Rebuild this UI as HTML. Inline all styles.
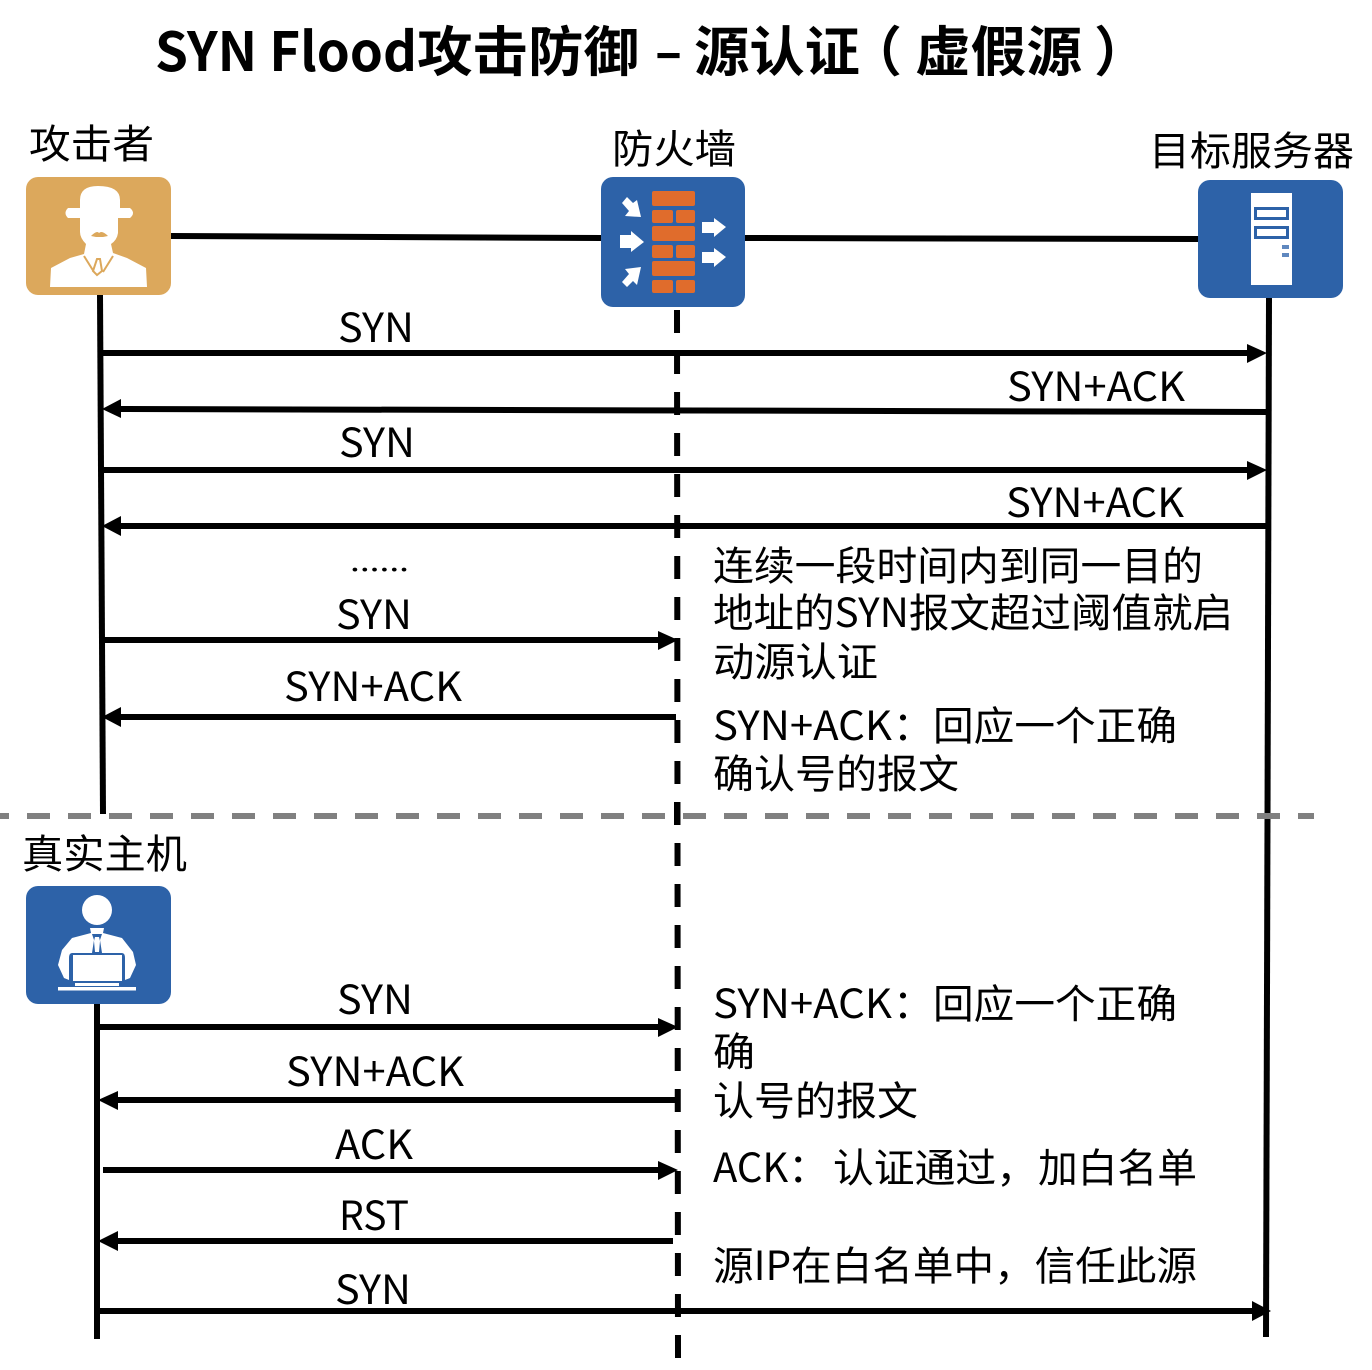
<!DOCTYPE html>
<html><head><meta charset="utf-8"><style>
html,body{margin:0;padding:0;background:#fff;width:1372px;height:1370px;overflow:hidden}
svg{display:block}
text{font-family:"Liberation Sans","Noto Sans CJK SC",sans-serif;fill:#000}
.n{font-family:"Noto Sans CJK SC","Liberation Sans",sans-serif;font-size:40px}
.t{font-family:"Noto Sans CJK SC","Liberation Sans",sans-serif;font-size:54px;font-weight:700}
</style></head><body>
<svg width="1372" height="1370" viewBox="0 0 1372 1370" xmlns="http://www.w3.org/2000/svg">
<text class="t" x="155" y="71" textLength="262" lengthAdjust="spacingAndGlyphs">SYN Flood</text>
<text class="t" x="417" y="71" textLength="222" lengthAdjust="spacingAndGlyphs">攻击防御</text>
<text class="t" x="655" y="71" textLength="27" lengthAdjust="spacingAndGlyphs">–</text>
<text class="t" x="694" y="71" textLength="166" lengthAdjust="spacingAndGlyphs">源认证</text>
<text class="t" x="848" y="71">（</text>
<text class="t" x="915" y="71" textLength="167" lengthAdjust="spacingAndGlyphs">虚假源</text>
<text class="t" x="1094" y="71">）</text>
<text class="n" x="29" y="158" textLength="125" lengthAdjust="spacingAndGlyphs">攻击者</text>
<text class="n" x="612" y="163" textLength="124" lengthAdjust="spacingAndGlyphs">防火墙</text>
<text class="n" x="1149" y="165" textLength="205" lengthAdjust="spacingAndGlyphs">目标服务器</text>
<text class="n" x="22" y="868" textLength="165" lengthAdjust="spacingAndGlyphs">真实主机</text>

<g stroke="#000" stroke-width="6" fill="none">
<path d="M171 236L601 238M745 238L1198 239"/>
<path d="M100 295L103 814"/>
<path d="M1269 298L1266 1337"/>
<path d="M97 1004V1339"/>
<path d="M677 310L678 1358" stroke-dasharray="23 18"/>
</g>
<path d="M-14 816H1314" stroke="#808080" stroke-width="6" stroke-dasharray="23 18" fill="none"/>
<path d="M677 802V825" stroke="#000" stroke-width="6"/>

<g stroke="#000" stroke-width="6" fill="none">
<path d="M103 353H1250M1268 412L118 409M103 470H1250M1268 526H118"/>
<path d="M104 640H660M676 717H118"/>
<path d="M98 1027H660M679 1100H114M103 1170H660M673 1241H114M97 1311H1254"/>
</g>
<g fill="#000">
<path d="M1267 353L1247 344V363Z"/>
<path d="M102 409L121 399V418Z"/>
<path d="M1267 470L1247 461V480Z"/>
<path d="M102 526L121 516V536Z"/>
<path d="M678 640L658 631V650Z"/>
<path d="M102 717L121 707V727Z"/>
<path d="M678 1027L658 1018V1037Z"/>
<path d="M98 1100L118 1091V1110Z"/>
<path d="M678 1170L658 1161V1180Z"/>
<path d="M98 1241L118 1231V1251Z"/>
<path d="M1271 1311L1252 1301V1321Z"/>
</g>

<g>
<text class="n" x="338" y="342" textLength="76" lengthAdjust="spacingAndGlyphs">SYN</text>
<text class="n" x="1007" y="401" textLength="178" lengthAdjust="spacingAndGlyphs">SYN+ACK</text>
<text class="n" x="339" y="457" textLength="76" lengthAdjust="spacingAndGlyphs">SYN</text>
<text class="n" x="1006" y="517" textLength="178" lengthAdjust="spacingAndGlyphs">SYN+ACK</text>
<text class="n" x="350" y="571" textLength="59" lengthAdjust="spacingAndGlyphs" style="font-size:28px">......</text>
<text class="n" x="336" y="629" textLength="76" lengthAdjust="spacingAndGlyphs">SYN</text>
<text class="n" x="284" y="701" textLength="178" lengthAdjust="spacingAndGlyphs">SYN+ACK</text>
<text class="n" x="337" y="1014" textLength="76" lengthAdjust="spacingAndGlyphs">SYN</text>
<text class="n" x="286" y="1086" textLength="178" lengthAdjust="spacingAndGlyphs">SYN+ACK</text>
<text class="n" x="335" y="1159" textLength="78" lengthAdjust="spacingAndGlyphs">ACK</text>
<text class="n" x="339" y="1230" textLength="70" lengthAdjust="spacingAndGlyphs">RST</text>
<text class="n" x="335" y="1304" textLength="76" lengthAdjust="spacingAndGlyphs">SYN</text>
</g>

<g>
<text class="n" x="713" y="580" textLength="490" lengthAdjust="spacingAndGlyphs">连续一段时间内到同一目的</text>
<text class="n" x="713" y="627" textLength="520" lengthAdjust="spacingAndGlyphs">地址的SYN报文超过阈值就启</text>
<text class="n" x="713" y="676" textLength="165" lengthAdjust="spacingAndGlyphs">动源认证</text>
<text class="n" x="713" y="740" textLength="179" lengthAdjust="spacingAndGlyphs">SYN+ACK</text>
<text class="n" x="893" y="740">：</text>
<text class="n" x="933" y="740" textLength="244" lengthAdjust="spacingAndGlyphs">回应一个正确</text>
<text class="n" x="713" y="788" textLength="246" lengthAdjust="spacingAndGlyphs">确认号的报文</text>
<text class="n" x="713" y="1018" textLength="179" lengthAdjust="spacingAndGlyphs">SYN+ACK</text>
<text class="n" x="893" y="1018">：</text>
<text class="n" x="933" y="1018" textLength="244" lengthAdjust="spacingAndGlyphs">回应一个正确</text>
<text class="n" x="713" y="1066" textLength="42" lengthAdjust="spacingAndGlyphs">确</text>
<text class="n" x="713" y="1115" textLength="205" lengthAdjust="spacingAndGlyphs">认号的报文</text>
<text class="n" x="713" y="1182">ACK：</text>
<text class="n" x="833" y="1182" textLength="204" lengthAdjust="spacingAndGlyphs">认证通过，</text>
<text class="n" x="1038" y="1182" textLength="159" lengthAdjust="spacingAndGlyphs">加白名单</text>
<text class="n" x="713" y="1280" textLength="484" lengthAdjust="spacingAndGlyphs">源IP在白名单中，信任此源</text>
</g>

<!-- attacker -->
<rect x="26" y="177" width="145" height="118" rx="12" fill="#dca85c"/>
<g fill="#fff">
<path d="M80 200Q80 186 98 186Q120 186 120 200V208H130Q136 213 130 218H118V233Q117 240 111 244L113 253 127 258 146 268 147 287H50L51 268 70 258 84 254 86 244Q80 238 80 232V218H68Q63 213 68 208H80Z"/>
</g>
<path d="M91 236Q97 230 99 233Q102 230 108 236L103 237H96Z" fill="#dca85c"/>
<path d="M84 256L94 272M113 256L103 272M97 259L93 271 97 275 102 271 100 259Z" stroke="#dca85c" stroke-width="2" fill="none"/>

<!-- firewall -->
<rect x="601" y="177" width="144" height="130" rx="12" fill="#2d62a8"/>
<g fill="#e06c2c">
<rect x="652" y="191" width="43" height="15" rx="2"/>
<rect x="652" y="210" width="21" height="13" rx="2"/><rect x="676" y="210" width="19" height="13" rx="2"/>
<rect x="652" y="226" width="43" height="15" rx="2"/>
<rect x="652" y="245" width="21" height="13" rx="2"/><rect x="676" y="245" width="19" height="13" rx="2"/>
<rect x="652" y="261" width="43" height="15" rx="2"/>
<rect x="652" y="280" width="21" height="13" rx="2"/><rect x="676" y="280" width="19" height="13" rx="2"/>
</g>
<g fill="#fff">
<path d="M622 203L627 197 633 203 637 200 641 217 625 216 629 211Z"/>
<path d="M620 235H631V231L644 242 631 252V248H620Z"/>
<path d="M622 282L627 287 633 281 637 285 641 267 625 269 629 274Z"/>
<path d="M702 222H714V218L726 227 714 237V233H702Z"/>
<path d="M702 252H714V248L726 257 714 267V263H702Z"/>
</g>

<!-- server -->
<rect x="1198" y="180" width="145" height="118" rx="12" fill="#2d62a8"/>
<rect x="1251" y="193" width="41" height="92" fill="#fff"/>
<rect x="1255.500" y="208.500" width="32" height="10" fill="none" stroke="#2d62a8" stroke-width="3"/>
<rect x="1255.500" y="227.500" width="32" height="10" fill="none" stroke="#2d62a8" stroke-width="3"/>
<rect x="1282" y="245" width="7" height="4" fill="#5f88bf"/>
<rect x="1282" y="253" width="7" height="4" fill="#5f88bf"/>

<!-- real host -->
<rect x="26" y="886" width="145" height="118" rx="12" fill="#2d62a8"/>
<g fill="#fff">
<circle cx="97" cy="910" r="15"/>
<path d="M90 928H104L103 933 122 938 133 952 136 965 130 978 125 980V958Q125 953 122 953H72Q69 953 69 958V980L64 978 58 965 62 950 72 938 91 933Z"/>
<path d="M73 955H122V981H73Z"/>
<rect x="58" y="987" width="78" height="3.500"/>
<rect x="75" y="983" width="44" height="3"/>
</g>
<path d="M92 934L94 940 92 953H102L100 940 102 934" fill="#2d62a8"/>
<path d="M95 937H99L100 941 99 952H95L94 941Z" fill="#fff"/>
</svg>
</body></html>
